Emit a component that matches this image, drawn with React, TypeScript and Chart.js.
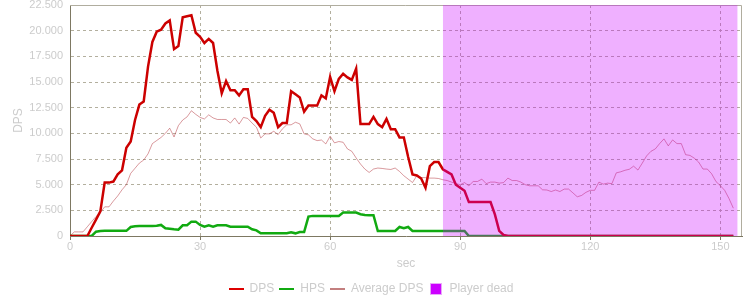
import React, { useEffect, useRef } from "react";
import { Chart, registerables } from "chart.js";

Chart.register(...registerables);

const seconds: number[] = Array.from({ length: 154 }, (_, i) => i);

const dpsValues: number[] = [
  0, 0, 0, 0, 0, 800, 1600, 2400, 5200, 5200,
  5300, 6000, 6400, 8600, 9200, 11300, 12800, 13100, 16500, 18900,
  19900, 20100, 20700, 21000, 18200, 18500, 21300, 21400, 21500, 19800,
  19400, 18800, 19200, 18800, 16100, 13900, 15100, 14200, 14200, 13700,
  14300, 14300, 11600, 11200, 10600, 11700, 12300, 12000, 10600, 11000,
  11000, 14100, 13800, 13500, 12100, 12700, 12700, 12700, 13700, 13400,
  15500, 14100, 15300, 15800, 15450, 15200, 16300, 10900, 10900, 10900,
  11600, 10900, 10600, 11400, 10400, 10400, 9600, 9600, 7700, 6000,
  5900, 5600, 4700, 6800, 7200, 7200, 6500, 6250, 6000, 5000,
  4700, 4400, 3300, 3300, 3300, 3300, 3300, 3300, 2100, 500,
  100, 0, 0, 0, 0, 0, 0, 0, 0, 0,
  0, 0, 0, 0, 0, 0, 0, 0, 0, 0,
  0, 0, 0, 0, 0, 0, 0, 0, 0, 0,
  0, 0, 0, 0, 0, 0, 0, 0, 0, 0,
  0, 0, 0, 0, 0, 0, 0, 0, 0, 0,
  0, 0, 0, 0,
];

const hpsValues: number[] = [
  0, 0, 0, 0, 0, 0, 420, 480, 500, 500,
  500, 500, 500, 500, 880, 950, 980, 980, 980, 980,
  1000, 1080, 750, 700, 650, 620, 1040, 1040, 1400, 1400,
  1080, 910, 1040, 910, 1040, 1040, 1040, 910, 910, 910,
  910, 910, 650, 550, 260, 260, 260, 260, 260, 260,
  260, 360, 260, 390, 390, 1890, 1960, 1960, 1960, 1960,
  1960, 1960, 1960, 2280, 2280, 2280, 2280, 2120, 2050, 2020,
  2020, 490, 490, 490, 490, 490, 880, 750, 880, 490,
  490, 490, 490, 490, 490, 490, 490, 490, 490, 490,
  490, 490, 0, 0, 0, 0, 0, 0, 0, 0,
  0, 0, 0, 0, 0, 0, 0, 0, 0, 0,
  0, 0, 0, 0, 0, 0, 0, 0, 0, 0,
  0, 0, 0, 0, 0, 0, 0, 0, 0, 0,
  0, 0, 0, 0, 0, 0, 0, 0, 0, 0,
  0, 0, 0, 0, 0, 0, 0, 0, 0, 0,
  0, 0, 0, 0,
];

const avgDpsValues: number[] = [
  0, 400, 400, 400, 900, 1400, 1900, 2300, 2840, 2840,
  3400, 3900, 4500, 5000, 6100, 6600, 7100, 7400, 8000, 9000,
  9300, 9600, 10000, 10500, 9650, 10750, 11300, 11600, 12200, 11850,
  11550, 11400, 11800, 11500, 11350, 11350, 11350, 11000, 11500, 10900,
  11550, 11450, 11000, 10600, 9550, 9950, 9950, 10200, 9880, 10440,
  10830, 10830, 11080, 10920, 9950, 9850, 9460, 9290, 9350, 8970,
  9720, 9070, 9200, 9130, 8480, 8250, 7600, 7010, 6520, 6190,
  6520, 6620, 6580, 6520, 6480, 6620, 6290, 5870, 5540, 5210,
  5870, 5700, 5680, 5640, 5640, 5600, 5480, 5400, 5250, 5120,
  4990, 5200, 4890, 5310, 5310, 5540, 5100, 5250, 5250, 5150,
  5200, 5640, 5400, 5400, 5250, 5000, 4890, 4890, 4890, 4500,
  4480, 4330, 4480, 4330, 4570, 4570, 4200, 3820, 3950, 4250,
  4450, 4450, 5250, 5050, 5150, 5100, 6150, 6250, 6400, 6500,
  6800, 6420, 7100, 7800, 8250, 8480, 9000, 9460, 8780, 9360,
  9000, 9000, 7920, 7850, 7580, 7200, 6520, 6520, 6060, 5300,
  4900, 4450, 3650, 2710,
];

const deadStart = 86;
const deadEnd = 154;
const deadLevel = 22500;

const xMax = 155;
const yMax = 22500;
const xTickStep = 30;
const yTickStep = 2500;

const legendNames = ["DPS", "HPS", "Average DPS", "Player dead"];

const FONT = "'Liberation Sans', Arial, sans-serif";
const LABEL_GRAY = "#cccccc";
const AXIS_COLOR = "#7d7862";
const GRID_COLOR = "#b3af9e";

function fmt(v: number): string {
  return String(Math.round(v)).replace(/\B(?=(\d{3})+(?!\d))/g, ".");
}

function lineSwatch(color: string, w: number, lw: number): HTMLCanvasElement {
  const c = document.createElement("canvas");
  c.width = w;
  c.height = 4;
  const ctx = c.getContext("2d")!;
  ctx.fillStyle = color;
  ctx.fillRect(0, (4 - lw) / 2, w, lw);
  return c;
}

function boxSwatch(fill: string, stroke: string, size: number): HTMLCanvasElement {
  const c = document.createElement("canvas");
  c.width = size;
  c.height = size;
  const ctx = c.getContext("2d")!;
  ctx.fillStyle = stroke;
  ctx.fillRect(0, 0, size, size);
  ctx.fillStyle = fill;
  ctx.fillRect(1, 1, size - 2, size - 2);
  return c;
}

const frameLines = {
  id: "frameLines",
  beforeDatasetsDraw(chart: any) {
    const { ctx, chartArea } = chart;
    ctx.save();
    ctx.strokeStyle = "#b0ad9f";
    ctx.lineWidth = 1;
    ctx.beginPath();
    ctx.moveTo(chartArea.left, chartArea.top + 0.5);
    ctx.lineTo(chartArea.right - 0.5, chartArea.top + 0.5);
    ctx.lineTo(chartArea.right - 0.5, chartArea.bottom);
    ctx.stroke();
    ctx.restore();
  },
};

export default function App() {
  const ref = useRef<HTMLCanvasElement | null>(null);

  useEffect(() => {
    document.body.style.margin = "0";
    const canvas = ref.current;
    if (!canvas) return;

    const swatches = [
      lineSwatch("#dd0000", 15, 2),
      lineSwatch("#11aa11", 15, 2),
      lineSwatch("#880000", 15, 1),
      boxSwatch("#cc00ff", "#e8a8f8", 12),
    ];

    const chart = new Chart(canvas, {
      type: "line",
      data: {
        labels: seconds,
        datasets: [
          {
            label: legendNames[0],
            data: dpsValues,
            borderColor: "#cc0000",
            borderWidth: 2.5,
            pointRadius: 0,
            fill: false,
            order: 1,
          },
          {
            label: legendNames[1],
            data: hpsValues,
            borderColor: "#11aa11",
            borderWidth: 2.5,
            pointRadius: 0,
            fill: false,
            order: 2,
          },
          {
            label: legendNames[2],
            data: avgDpsValues,
            borderColor: "rgba(170,30,40,0.45)",
            borderWidth: 1,
            pointRadius: 0,
            fill: false,
            order: 3,
          },
          {
            label: legendNames[3],
            data: [
              { x: deadStart, y: deadLevel },
              { x: deadEnd, y: deadLevel },
            ],
            borderColor: "rgba(0,0,0,0)",
            borderWidth: 0,
            backgroundColor: "rgba(204,0,255,0.31)",
            pointRadius: 0,
            fill: "origin",
            order: -1,
          } as any,
        ],
      },
      options: {
        animation: false,
        responsive: false,
        maintainAspectRatio: false,
        layout: { padding: { left: 0, right: 8, top: 5, bottom: -5 } },
        font: { family: FONT },
        plugins: {
          tooltip: { enabled: false },
          legend: {
            display: true,
            position: "bottom",
            labels: {
              color: LABEL_GRAY,
              font: { family: FONT, size: 12 },
              usePointStyle: true,
              pointStyleWidth: 15,
              boxHeight: 12,
              padding: 5,
              generateLabels: () =>
                legendNames.map((name, i) => ({
                  text: name,
                  pointStyle: swatches[i],
                  fillStyle: "transparent",
                  strokeStyle: "transparent",
                  lineWidth: 0,
                  hidden: false,
                  datasetIndex: i,
                  fontColor: LABEL_GRAY,
                })),
            },
          },
        },
        scales: {
          x: {
            type: "linear",
            min: 0,
            max: xMax,
            ticks: {
              stepSize: xTickStep,
              includeBounds: false,
              color: LABEL_GRAY,
              font: { family: FONT, size: 11 },
              padding: 0,
              maxRotation: 0,
              autoSkip: false,
            },
            grid: {
              color: GRID_COLOR,
              drawTicks: true,
              tickLength: 4,
              tickColor: AXIS_COLOR,
              tickBorderDash: [],
            },
            border: { display: true, color: AXIS_COLOR, dash: [3, 3] },
            title: {
              display: true,
              text: "sec",
              color: LABEL_GRAY,
              font: { family: FONT, size: 12 },
              padding: { top: 0, bottom: 7 },
            },
            afterFit: (scale: any) => {
              scale.height = 42;
              scale.paddingLeft = 0;
              scale.paddingRight = 0;
            },
          },
          y: {
            min: 0,
            max: yMax,
            ticks: {
              stepSize: yTickStep,
              color: LABEL_GRAY,
              font: { family: FONT, size: 11 },
              padding: 7,
              callback: (v: any) => fmt(Number(v)),
            },
            grid: { color: GRID_COLOR, drawTicks: false },
            border: { display: true, color: AXIS_COLOR, dash: [3, 3] },
            title: {
              display: true,
              text: "DPS",
              color: LABEL_GRAY,
              font: { family: FONT, size: 12 },
              padding: { top: 11, bottom: 0 },
            },
            afterFit: (scale: any) => {
              scale.width = 70;
              scale.paddingTop = 0;
              scale.paddingBottom = 0;
            },
          },
        },
      },
      plugins: [frameLines],
    });

    return () => chart.destroy();
  }, []);

  return (
    <div style={{ width: 750, height: 300, background: "#fff" }}>
      <canvas ref={ref} width={750} height={300} style={{ display: "block" }} />
    </div>
  );
}
